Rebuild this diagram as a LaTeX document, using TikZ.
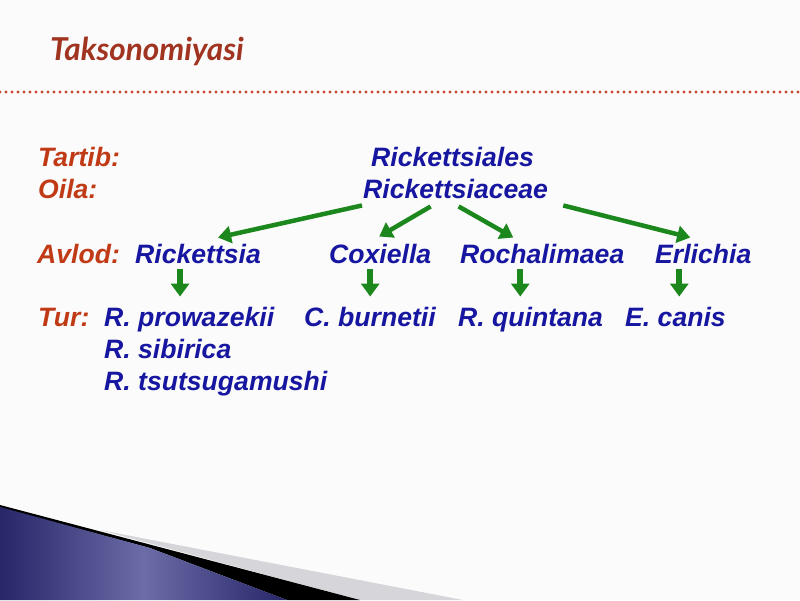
\documentclass[tikz,border=0pt]{standalone}
\usepackage{fontspec}
\setmainfont{Liberation Sans}
\newfontfamily\titlefont{Lato}
\usetikzlibrary{arrows.meta,calc}
\definecolor{lblred}{RGB}{192,58,22}
\definecolor{txtblue}{RGB}{22,22,160}
\definecolor{arrgreen}{RGB}{28,135,28}
\definecolor{titlered}{RGB}{160,52,32}
\definecolor{dotred}{RGB}{205,70,50}
\definecolor{navydark}{RGB}{38,38,105}
\definecolor{navylight}{RGB}{108,108,168}
\definecolor{bandgray}{RGB}{214,214,218}
\definecolor{bgwhite}{RGB}{251,251,251}
\begin{document}
\begin{tikzpicture}[x=1pt,y=-1pt,
  lbl/.style={anchor=base west, inner sep=0pt, text=lblred, font=\fontsize{26.6}{30}\selectfont\bfseries\itshape},
  txt/.style={anchor=base west, inner sep=0pt, text=txtblue, font=\fontsize{26.6}{30}\selectfont\bfseries\itshape},
  arr/.style={draw=arrgreen, line width=4.5pt, -{Triangle[length=13pt,width=17pt]}},
  darr/.style={draw=arrgreen, line width=6pt, -{Triangle[length=13pt,width=18pt]}},
  ]
\useasboundingbox (0,0) rectangle (800,600);
\fill[bgwhite] (0,0) rectangle (800,600);

% bottom-left decoration
\fill[bandgray] (100,530) -- (463,600) -- (360,600) -- cycle;
\fill[black] (0,505) -- (360,600) -- (287,600) -- (150,548) -- (0,508) -- cycle;
\shade[left color=navydark, right color=navydark, middle color=navylight]
  (0,507) -- (150,548) -- (287,600) -- (0,600) -- cycle;

% title and dotted rule
\node[anchor=base west, inner sep=0pt, text=titlered, font=\fontsize{31.5}{34}\selectfont\titlefont\bfseries\itshape] (title) at (50,60) {Taksonomiyasi};
\coordinate (ruleL) at (0,92);
\coordinate (ruleR) at (800,92);
\draw[dotred, line width=3.3pt, dash pattern=on 0pt off 6pt, line cap=round] (ruleL) -- (ruleR);

% labels
\node[lbl] (tartib) at (38,166) {Tartib:};
\node[lbl] (oila) at (38,198) {Oila:};
\node[lbl] (avlod) at (37,263) {Avlod:};
\node[lbl] (tur) at (38,326) {Tur:};

% taxa
\node[txt] (order) at (371,166) {Rickettsiales};
\node[txt] (fam) at (363,198) {Rickettsiaceae};
\node[txt] (rick) at (135,263) {Rickettsia};
\node[txt] (cox) at (329,263) {Coxiella};
\node[txt] (roch) at (460,263) {Rochalimaea};
\node[txt] (erl) at (655,263) {Erlichia};
\node[txt] (prow) at (104,326) {R. prowazekii};
\node[txt] (burn) at (304,326) {C. burnetii};
\node[txt] (quin) at (458,326) {R. quintana};
\node[txt] (canis) at (625,326) {E. canis};
\node[txt] (sib) at (104,358) {R. sibirica};
\node[txt] (tsu) at (104,390) {R. tsutsugamushi};

% family to genus arrows
\draw[arr] ([shift={(-1,7)}]fam.south west) -- ([shift={(20,-6)}]rick.north);
\draw[arr] ([shift={(-25,8)}]fam.south) -- ([shift={(-1,-7)}]cox.north);
\draw[arr] ([shift={(3,8)}]fam.south) -- ([shift={(-29,-6)}]roch.north);
\draw[arr] ([shift={(15,7)}]fam.south east) -- ([shift={(-13,-6)}]erl.north);

% genus to species arrows
\coordinate (d1) at ([shift={(-18,6)}]rick.south);
\coordinate (d2) at ([shift={(-10,6)}]cox.south);
\coordinate (d3) at ([shift={(-22,6)}]roch.south);
\coordinate (d4) at ([shift={(-24,6)}]erl.south);
\draw[darr, shorten >=10pt] (d1) -- (d1 |- prow.north);
\draw[darr, shorten >=10pt] (d2) -- (d2 |- burn.north);
\draw[darr, shorten >=10pt] (d3) -- (d3 |- quin.north);
\draw[darr, shorten >=10pt] (d4) -- (d4 |- canis.north);
\end{tikzpicture}
\end{document}
